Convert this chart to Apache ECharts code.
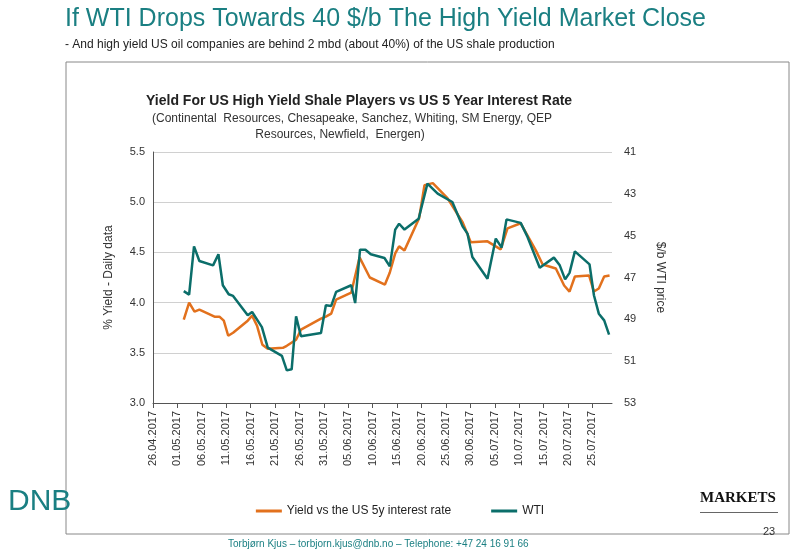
<!DOCTYPE html>
<html><head><meta charset="utf-8">
<script src="https://cdn.jsdelivr.net/npm/echarts@6/dist/echarts.min.js"></script>
<style>body{margin:0;background:#fff}#c{width:800px;height:554px}</style></head>
<body><div id="c"></div>
<script>
// day offsets from 26.04.2017
const startDate = [2017, 3, 26];
const yieldDays = [6.3,7.4,8.5,9.5,12.6,13.6,14.5,15.4,16.4,19.4,20.3,21.3,22.4,23.5,26.6,27.4,29.3,30.3,34.4,35.4,36.5,37.5,40.6,42.3,44.4,47.5,48.5,49.6,50.4,51.5,54.5,55.6,57.3,60.3,63.4,65.1,68.5,71.2,72.6,75.3,78.4,79.8,82.5,84.2,85.3,86.4,89.3,90.3,91.3,92.4,93.5];
const yieldValues = [3.83,4.00,3.91,3.93,3.86,3.86,3.82,3.67,3.70,3.82,3.87,3.77,3.58,3.54,3.55,3.57,3.63,3.73,3.84,3.86,3.89,4.03,4.10,4.45,4.25,4.18,4.30,4.49,4.56,4.52,4.84,5.17,5.19,5.04,4.80,4.60,4.61,4.53,4.74,4.79,4.52,4.38,4.34,4.17,4.11,4.26,4.27,4.11,4.14,4.26,4.27];
const wtiDays = [6.3,7.4,8.4,9.5,12.3,13.4,14.3,15.5,16.4,19.4,20.3,22.3,23.5,26.4,27.4,28.4,29.3,30.3,34.4,35.4,36.5,37.5,40.6,41.4,42.4,43.5,44.6,47.4,48.5,49.6,50.4,51.5,54.4,56.2,58.3,61.3,63.4,64.4,65.4,68.5,70.2,71.4,72.4,75.3,76.7,79.2,82.1,83.3,84.4,85.3,86.4,89.4,90.3,91.3,92.4,93.4];
const wtiValues = [47.65,47.82,45.51,46.21,46.42,45.89,47.37,47.80,47.88,48.81,48.65,49.37,50.35,50.75,51.44,51.39,48.86,49.81,49.65,48.33,48.36,47.69,47.37,48.22,45.67,45.67,45.89,46.07,46.47,44.71,44.43,44.71,44.19,42.51,42.99,43.39,44.55,44.90,46.02,47.06,45.14,45.57,44.22,44.39,45.06,46.53,46.05,46.42,47.09,46.78,45.75,46.37,47.85,48.73,49.05,49.73];
const leftTicks = [3.0, 5.5, 0.5];
const rightTicks = [41, 53, 2];

function dayLabel(d){
  const dt = new Date(startDate[0], startDate[1], startDate[2] + d);
  const p = n => String(n).padStart(2,'0');
  return p(dt.getDate()) + '.' + p(dt.getMonth()+1) + '.' + dt.getFullYear();
}
const teal = '#0b6e6a', orange = '#e2711d';
const chart = echarts.init(document.getElementById('c'));
chart.setOption({
  animation:false,
  graphic:[
    {type:'text',left:65,top:7,style:{text:'If WTI Drops Towards 40 $/b The High Yield Market Close',fill:'#1a7f82',font:'25px "Liberation Sans", Arial'}},
    {type:'text',left:65,top:39,style:{text:'- And high yield US oil companies are behind 2 mbd (about 40%) of the US shale production',fill:'#222',font:'12px "Liberation Sans", Arial'}},
    {type:'rect',shape:{x:66,y:62,width:723,height:472},style:{fill:'none',stroke:'#888',lineWidth:1}},
    {type:'text',left:146,top:94,style:{text:'Yield For US High Yield Shale Players vs US 5 Year Interest Rate',fill:'#222',font:'bold 14px "Liberation Sans", Arial'}},
    {type:'text',left:152,top:111,style:{text:'(Continental  Resources, Chesapeake, Sanchez, Whiting, SM Energy, QEP\n                               Resources, Newfield,  Energen)',fill:'#333',font:'12px "Liberation Sans", Arial',lineHeight:16}},
    {type:'text',left:8,top:487,style:{text:'DNB',fill:'#1a7f82',font:'30px "Liberation Sans", Arial'}},
    {type:'text',left:700,top:491,style:{text:'MARKETS',fill:'#111',font:'bold 15px "Liberation Serif", serif'}},
    {type:'rect',shape:{x:700,y:512,width:78,height:1},style:{fill:'#666'}},
    {type:'text',left:763,top:526,style:{text:'23',fill:'#333',font:'11px "Liberation Sans", Arial'}},
    {type:'text',left:228,top:539,style:{text:'Torbjørn Kjus – torbjorn.kjus@dnb.no – Telephone: +47 24 16 91 66',fill:'#1a7f82',font:'10px "Liberation Sans", Arial'}}
  ],
  legend:{bottom:32,left:'center',itemWidth:26,itemHeight:3,icon:'rect',itemGap:40,textStyle:{fontSize:12,color:'#222',fontFamily:'Liberation Sans'},
    data:['Yield vs the US 5y interest rate','WTI']},
  grid:{left:153,right:188,top:152,bottom:151},
  xAxis:{type:'value',min:0,max:94,interval:5,
    axisLine:{lineStyle:{color:'#555'}},axisTick:{show:true,lineStyle:{color:'#555'}},splitLine:{show:false},
    axisLabel:{rotate:90,fontSize:11,color:'#333',formatter:v=>v>90?'':dayLabel(v),showMaxLabel:false}},
  yAxis:[
    {type:'value',min:leftTicks[0],max:leftTicks[1],interval:leftTicks[2],name:'% Yield - Daily data',nameLocation:'middle',nameGap:38,
     nameTextStyle:{fontSize:12,color:'#333'},axisLine:{show:true,lineStyle:{color:'#555'}},axisTick:{show:false},
     axisLabel:{formatter:v=>v.toFixed(1),fontSize:11,color:'#333'},splitLine:{lineStyle:{color:'#d0d0d0'}}},
    {type:'value',min:rightTicks[0],max:rightTicks[1],interval:rightTicks[2],inverse:true,name:'$/b WTI price',nameLocation:'middle',nameGap:42,
     nameRotate:-90,nameTextStyle:{fontSize:12,color:'#333'},axisLine:{show:false},axisTick:{show:false},axisLabel:{fontSize:11,color:'#333',margin:12},splitLine:{show:false}}
  ],
  series:[
    {name:'Yield vs the US 5y interest rate',type:'line',yAxisIndex:0,showSymbol:false,color:orange,lineStyle:{width:2.5,color:orange},
     data:yieldDays.map((d,i)=>[d,yieldValues[i]])},
    {name:'WTI',type:'line',yAxisIndex:1,showSymbol:false,color:teal,lineStyle:{width:2.5,color:teal},
     data:wtiDays.map((d,i)=>[d,wtiValues[i]])}
  ]
});
</script></body></html>
